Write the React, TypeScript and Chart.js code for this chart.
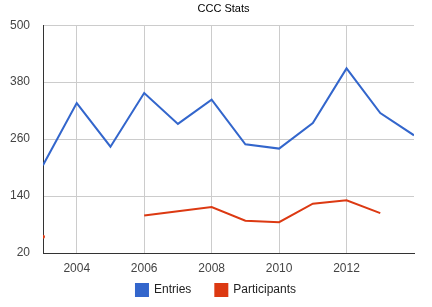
import React, { useEffect, useRef } from 'react';
import { Chart, registerables } from 'chart.js';

Chart.register(...registerables);

const years = [2003, 2004, 2005, 2006, 2007, 2008, 2009, 2010, 2011, 2012, 2013, 2014];
const entries = [205, 336, 244, 357, 292, 343, 249, 240, 294, 409, 315, 268];
const participants: (number | null)[] = [54, null, null, 99, 108, 117, 88, 85, 124, 131, 104, null];
const yTicks = [20, 140, 260, 380, 500];
const xTicks = [2004, 2006, 2008, 2010, 2012];

const FONT = '"Liberation Sans", Arial, sans-serif';

const placer = {
  id: 'placer',
  afterLayout(chart: any) {
    const lg = chart.legend;
    if (lg) {
      lg.top = 260;
      lg.bottom = chart.height;
      lg.height = lg.bottom - lg.top;
      lg.left = 9;
      lg.right = 423;
    }
    const tb = chart.titleBlock;
    if (tb) {
      tb.left = 15;
      tb.right = 432;
    }
  },
};

export default function App() {
  const ref = useRef<HTMLCanvasElement>(null);

  useEffect(() => {
    if (!ref.current) return;
    const chart = new Chart(ref.current, {
      type: 'line',
      plugins: [placer],
      data: {
        datasets: [
          {
            label: 'Entries',
            data: years.map((x, i) => ({ x, y: entries[i] })),
            borderColor: '#3366cc',
            backgroundColor: '#3366cc',
            borderWidth: 2,
            pointRadius: 0,
            tension: 0,
          },
          {
            label: 'Participants',
            data: years.map((x, i) => ({ x, y: participants[i] })),
            borderColor: '#dc3912',
            backgroundColor: '#dc3912',
            borderWidth: 2,
            pointRadius: (ctx: any) => {
              const i = ctx.dataIndex;
              const prev = i > 0 ? participants[i - 1] : null;
              const next = i < participants.length - 1 ? participants[i + 1] : null;
              return participants[i] != null && prev == null && next == null ? 2 : 0;
            },
            pointBorderWidth: 0,
            tension: 0,
          },
        ],
      },
      options: {
        animation: false,
        responsive: false,
        maintainAspectRatio: false,
        layout: { padding: { left: 0, right: 18, top: 0, bottom: 1 } },
        plugins: {
          title: {
            display: true,
            text: 'CCC Stats',
            color: '#000',
            font: { family: FONT, size: 11, weight: 'normal' },
            padding: { top: 2, bottom: 10 },
          },
          legend: {
            position: 'bottom',
            maxHeight: 30,
            labels: {
              boxWidth: 12,
              boxHeight: 12,
              padding: 24,
              color: '#222',
              font: { family: FONT, size: 12 },
            },
          },
          tooltip: { enabled: false },
        },
        scales: {
          x: {
            type: 'linear',
            min: 2003,
            max: 2014,
            afterBuildTicks: (s: any) => {
              s.ticks = xTicks.map((v) => ({ value: v }));
            },
            afterFit: (s: any) => {
              s.height = 23;
            },
            ticks: {
              padding: 8,
              color: '#444',
              font: { family: FONT, size: 12 },
              maxRotation: 0,
              autoSkip: false,
              callback: (v: any) => String(v),
            },
            grid: { color: '#cccccc', drawTicks: false },
            border: { color: '#333333', width: 1 },
          },
          y: {
            min: 20,
            max: 500,
            afterBuildTicks: (s: any) => {
              s.ticks = yTicks.map((v) => ({ value: v }));
            },
            afterFit: (s: any) => {
              s.width = 43;
            },
            ticks: {
              padding: 13,
              color: '#444',
              font: { family: FONT, size: 12 },
              callback: (v: any) => String(v),
            },
            grid: { color: '#cccccc', drawTicks: false },
            border: { color: '#333333', width: 1 },
          },
        },
      },
    });
    return () => chart.destroy();
  }, []);

  return (
    <div style={{ position: 'absolute', left: 0, top: 0, width: 432, height: 307, background: '#fff' }}>
      <canvas ref={ref} width={432} height={307} />
    </div>
  );
}
